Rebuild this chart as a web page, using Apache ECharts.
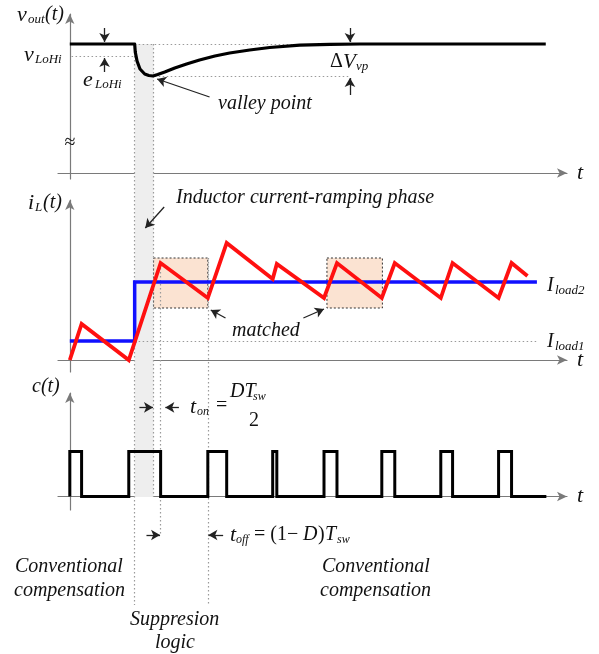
<!DOCTYPE html>
<html>
<head>
<meta charset="utf-8">
<script src="https://cdn.jsdelivr.net/npm/echarts@6/dist/echarts.min.js"></script>
<style>
  html, body { margin: 0; padding: 0; background: #fff; }
  #chart { width: 599px; height: 654px; }
</style>
</head>
<body>
<div id="chart"></div>
<script>
// Shared time axis (one switching period is about 10 units)
const tMin = -2, tMax = 84.3;

// Output voltage v_out(t): undershoot after the load step and recovery
const voutT = [0, 11.0, 11.1, 11.4, 11.9, 12.7, 13.4, 14.1, 14.9, 16.1, 17.8, 19.8, 22.0, 24.6, 27.1, 30.5, 33.9, 39.0, 44.1, 49.2, 80.7];
const voutV = [1.29, 1.29, 1.21, 1.12, 1.04, 0.99, 0.975, 0.97, 0.985, 1.01, 1.05, 1.09, 1.13, 1.17, 1.20, 1.23, 1.255, 1.278, 1.287, 1.29, 1.29];
const vHigh = 1.29, vLoHi = 1.17, vValley = 0.97;

// Inductor current i_L(t) corners
const iLT = [0, 2.0, 10.0, 15.4, 23.4, 26.6, 34.4, 35.1, 43.1, 45.3, 52.9, 55.1, 62.9, 64.9, 72.7, 74.9, 77.6];
const iLV = [0, 0.36, 0, 0.97, 0.62, 1.17, 0.81, 0.96, 0.62, 0.97, 0.62, 0.97, 0.62, 0.97, 0.62, 0.97, 0.84];

// Load current step
const iLoad1 = 0.19, iLoad2 = 0.78;
const loadStepT = 11.0, loadEndT = 79.2;

// "matched" windows
const matchedStart = [14.2, 43.6];
const matchedEnd = [23.4, 53.0];
const matchedLow = 0.52, matchedHigh = 1.02;

// Control signal c(t): on-intervals
const pulseOn = [0, 10.0, 23.4, 34.4, 43.1, 52.9, 62.9, 72.7];
const pulseOff = [2.0, 15.4, 26.6, 35.1, 45.3, 55.1, 64.9, 74.9];
const pulseEndT = 80.8;

// Guide times: load step, valley, end of t_on, end of t_off
const guideTimes = [11.0, 14.2, 15.4, 23.4];

const SERIF = '"Liberation Serif", "Times New Roman", "DejaVu Serif", serif';
const INK = '#111';
const AXIS = '#7a7a7a';
const DOT = '#9a9a9a';

const zip = (a, b) => a.map((v, i) => [v, b[i]]);

// square wave built from the on/off instants
const pulseData = [];
pulseOn.forEach((on, i) => {
  pulseData.push([on, 0], [on, 1], [pulseOff[i], 1], [pulseOff[i], 0]);
});
pulseData.push([pulseEndT, 0]);

const loadData = [[0, iLoad1], [loadStepT, iLoad1], [loadStepT, iLoad2], [loadEndT, iLoad2]];

function xAx(gi, visible) {
  return {
    type: 'value', gridIndex: gi, min: tMin, max: tMax, show: visible,
    name: visible ? 't' : '', nameLocation: 'end', nameGap: 10,
    nameTextStyle: { fontFamily: SERIF, fontStyle: 'italic', fontSize: 22, color: INK },
    axisLine: { show: visible, onZero: true, symbol: ['none', 'arrow'], symbolSize: [7, 10], lineStyle: { color: AXIS, width: 1.2 } },
    axisTick: { show: false }, axisLabel: { show: false }, splitLine: { show: false }
  };
}
function yAx(gi, min, max, visible, inverse) {
  return {
    type: 'value', gridIndex: gi, min: min, max: max, show: visible, inverse: !!inverse,
    axisLine: { show: visible, onZero: true, symbol: ['none', 'arrow'], symbolSize: [7, 10], lineStyle: { color: AXIS, width: 1.2 } },
    axisTick: { show: false }, axisLabel: { show: false }, splitLine: { show: false }
  };
}

const dotted = { color: DOT, width: 1.2, type: [1.5, 2.5] };
const arrowLine = { color: '#222', width: 1.3, type: 'solid' };
function seg(a, b) { return [{ coord: a }, { coord: b }]; }
function markDotted(segs) {
  return { silent: true, symbol: ['none', 'none'], label: { show: false }, lineStyle: dotted, emphasis: { disabled: true }, data: segs };
}
function markArrows(segs) {
  return { silent: true, symbol: ['none', 'arrow'], symbolSize: [8, 9], label: { show: false }, lineStyle: arrowLine, emphasis: { disabled: true }, data: segs };
}
function helper(xi, z, extra) {
  return Object.assign({ type: 'line', xAxisIndex: xi, yAxisIndex: xi, data: [], z: z, silent: true, symbol: 'none' }, extra);
}

// Text pieces (with manual subscripts)
function txt(s, x, y, size, upright, align) {
  return {
    type: 'text', silent: true, z: 100,
    style: { text: s, x: x, y: y, fill: INK, font: (upright ? '' : 'italic ') + size + 'px ' + SERIF, verticalAlign: 'middle', align: align || 'left' }
  };
}

const texts = [
  txt('v', 17, 15, 22), txt('out', 28, 20, 13), txt('(t)', 45, 15, 20),
  txt('v', 24, 55, 22), txt('LoHi', 35, 60, 13),
  txt('e', 83, 80, 22), txt('LoHi', 95, 85, 13),
  txt('\u2248', 70, 143, 20, true, 'center'),
  txt('valley point', 218, 104, 20),
  txt('\u0394', 330, 62, 20, true), txt('V', 343, 62, 21), txt('vp', 356, 67, 13),
  txt('i', 28, 203, 22), txt('L', 35, 208, 13), txt('(t)', 43, 203, 20),
  txt('Inductor current-ramping phase', 176, 198, 20),
  txt('matched', 232, 331, 20),
  txt('I', 547, 286, 20), txt('load2', 555, 291, 13),
  txt('I', 547, 342, 20), txt('load1', 555, 347, 13),
  txt('c(t)', 32, 387, 20),
  txt('t', 190, 407, 22), txt('on', 197, 412, 12), txt('=', 216, 406, 20, true),
  txt('DT', 230, 392, 20), txt('sw', 253, 397, 12), txt('2', 249, 421, 20, true),
  txt('t', 230, 535, 22), txt('off', 236, 540, 12), txt('= (1\u2212', 254, 535, 20, true),
  txt('D', 303, 535, 20), txt(')', 318, 535, 20, true), txt('T', 325, 535, 20), txt('sw', 337, 540, 12),
  txt('Conventional', 15, 567, 20), txt('compensation', 14, 591, 20),
  txt('Conventional', 322, 567, 20), txt('compensation', 320, 591, 20),
  txt('Suppresion', 130, 620, 20), txt('logic', 155, 643, 20)
];

const option = {
  animation: false,
  backgroundColor: '#fff',
  grid: [
    { left: 58, right: 32, top: 14, height: 165 },
    { left: 58, right: 32, top: 200, height: 172 },
    { left: 58, right: 32, top: 393, height: 117 },
    { left: 58, right: 32, top: 0, height: 654 }
  ],
  xAxis: [xAx(0, true), xAx(1, true), xAx(2, true), xAx(3, false)],
  yAxis: [yAx(0, -0.06, 1.59, true), yAx(1, -0.12, 1.6, true), yAx(2, -0.3, 2.3, true), yAx(3, 0, 654, false, true)],
  graphic: texts,
  series: [
    // overlay: shaded ramping phase and vertical guides across panels
    helper(3, 0, {
      markArea: { silent: true, itemStyle: { color: '#eeeeee' }, label: { show: false },
        data: [seg([guideTimes[0], 44], [guideTimes[1], 497])] }
    }),
    helper(3, 1, {
      markLine: markDotted([
        seg([guideTimes[0], 44], [guideTimes[0], 605]),
        seg([guideTimes[1], 44], [guideTimes[1], 497]),
        seg([guideTimes[2], 264], [guideTimes[2], 535]),
        seg([guideTimes[3], 258], [guideTimes[3], 605])
      ])
    }),
    helper(3, 20, {
      markLine: markArrows([
        seg([13.0, 535], [15.3, 535]),
        seg([26.0, 535], [23.5, 535])
      ])
    }),

    // panel 1: output voltage
    helper(0, 2, {
      markLine: markDotted([
        seg([0.3, vLoHi], [10.8, vLoHi]),
        seg([11.0, vHigh], [47.5, vHigh]),
        seg([14.4, vValley], [47.5, vValley])
      ])
    }),
    {
      type: 'line', xAxisIndex: 0, yAxisIndex: 0, z: 5, silent: true, symbol: 'none',
      data: zip(voutT, voutV), lineStyle: { color: '#000', width: 3.2, join: 'round' }
    },
    helper(0, 6, {
      markLine: markArrows([
        seg([5.9, 1.45], [5.9, 1.31]),
        seg([5.9, 1.01], [5.9, 1.15]),
        seg([47.5, 1.45], [47.5, 1.31]),
        seg([47.5, 0.78], [47.5, 0.95]),
        seg([23.7, 0.76], [14.8, 0.94])
      ])
    }),

    // panel 2: inductor current
    helper(1, 2, {
      markArea: {
        silent: true, label: { show: false },
        itemStyle: { color: '#fbe3d2', borderColor: '#333', borderWidth: 1, borderType: [2, 2] },
        data: matchedStart.map((s, i) => seg([s, matchedHigh], [matchedEnd[i], matchedLow]))
      },
      markLine: markDotted([seg([loadStepT, iLoad1], [loadEndT, iLoad1])])
    }),
    {
      type: 'line', xAxisIndex: 1, yAxisIndex: 1, z: 5, silent: true, symbol: 'none',
      data: loadData, lineStyle: { color: '#1010ff', width: 3.5, join: 'miter' }
    },
    {
      type: 'line', xAxisIndex: 1, yAxisIndex: 1, z: 6, silent: true, symbol: 'none',
      data: zip(iLT, iLV), lineStyle: { color: '#ff1010', width: 3.8, join: 'miter' }
    },
    helper(1, 7, {
      markLine: markArrows([
        seg([16.0, 1.53], [12.8, 1.32]),
        seg([26.4, 0.42], [23.9, 0.50]),
        seg([39.6, 0.42], [43.1, 0.51])
      ])
    }),

    // panel 3: control signal
    {
      type: 'line', xAxisIndex: 2, yAxisIndex: 2, z: 5, silent: true, symbol: 'none',
      data: pulseData, lineStyle: { color: '#000', width: 3, join: 'miter' }
    },
    helper(2, 7, {
      markLine: markArrows([
        seg([11.8, 1.98], [14.1, 1.98]),
        seg([18.5, 1.98], [16.2, 1.98])
      ])
    })
  ]
};

echarts.init(document.getElementById('chart'), null, { renderer: 'canvas' }).setOption(option);
</script>
</body>
</html>
